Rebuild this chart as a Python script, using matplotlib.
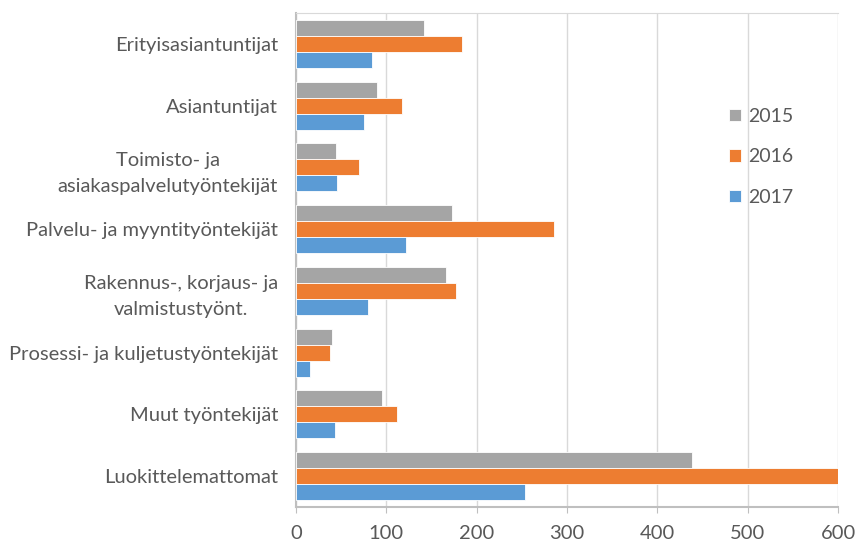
import matplotlib.pyplot as plt
import numpy as np

categories = ["Erityisasiantuntijat", "Asiantuntijat", "Toimisto- ja\nasiakaspalvelutyöntekijät",
              "Palvelu- ja myyntityöntekijät", "Rakennus-, korjaus- ja\nvalmistustyönt.",
              "Prosessi- ja kuljetustyöntekijät", "Muut työntekijät", "Luokittelemattomat"]
years = ["2015", "2016", "2017"]
v2015 = [142, 90, 44, 173, 166, 40, 95, 438]
v2016 = [184, 117, 70, 286, 177, 38, 112, 620]
v2017 = [84, 75, 45, 122, 80, 16, 43, 253]
colors = ["#A5A5A5", "#ED7D31", "#5B9BD5"]

plt.rcParams['font.family'] = ['Lato', 'DejaVu Sans']
txt = "#595959"

fig = plt.figure(figsize=(8.57, 5.41), dpi=100)
ax = fig.add_axes([296/857, 1-507/541, (838-296)/857, (507-13)/541])

y = np.arange(len(categories))
h = 0.26
for i, (vals, c, lab) in enumerate(zip([v2015, v2016, v2017], colors, years)):
    ax.barh(y + (i-1)*h, vals, height=h, color=c, edgecolor="white", linewidth=0.6, label=lab, zorder=3)

ax.set_xlim(0, 600)
ax.set_ylim(len(categories)-0.5, -0.5)
ax.set_yticks(y)
ax.set_yticklabels(categories, fontsize=14.5, color=txt, multialignment="center", linespacing=1.65)
ax.set_xticks(range(0, 601, 100))
ax.tick_params(axis="x", labelsize=14.5, colors=txt, length=4.5, color="#BFBFBF", pad=8.5)
ax.tick_params(axis="y", length=0, pad=13)
ax.xaxis.grid(True, color="#D9D9D9", linewidth=1, zorder=0)
for s in ["left", "bottom"]:
    ax.spines[s].set_color("#BFBFBF")
    ax.spines[s].set_linewidth(1.5)
ax.spines["top"].set_color("#D9D9D9")
ax.spines["right"].set_visible(False)

leg = fig.legend(loc="center left", bbox_to_anchor=(729/857, 1-157/541), frameon=False, fontsize=14,
                 handlelength=0.6, handleheight=0.6, labelspacing=1.2, handletextpad=0.4,
                 borderpad=0, borderaxespad=0)
for t in leg.get_texts():
    t.set_color(txt)

fig.savefig("out.png", dpi=100)
